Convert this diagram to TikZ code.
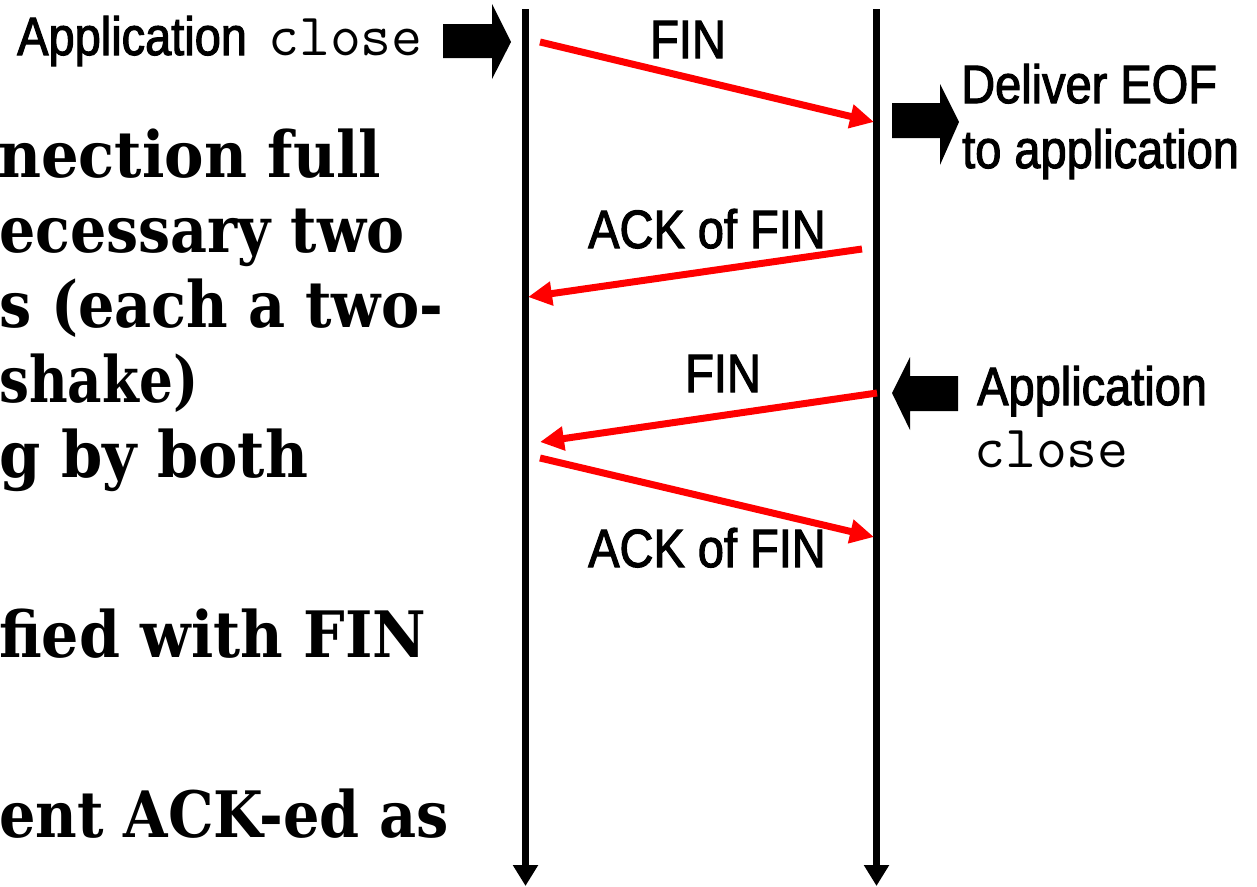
\documentclass[tikz,border=0pt]{standalone}
\usepackage{fontspec}
\usepackage{graphicx}
\usetikzlibrary{arrows.meta}
\newfontfamily\narrowsans[FakeStretch=0.87,FakeBold=2]{Liberation Sans}
\newfontfamily\slabbold{DejaVu Serif Bold}
% one line of the slide text, fitted to a given width
\newcommand{\fitline}[2]{\resizebox{#1}{\height}{#2}}
\begin{document}
\begin{tikzpicture}[x=1pt,y=-1pt,
  lbl/.style={inner sep=0pt,font=\narrowsans\fontsize{54}{65}\selectfont},
  code/.style={inner sep=0pt,font=\ttfamily\fontsize{60}{65}\selectfont},
  bullet/.style={inner sep=0pt,anchor=base west,font=\slabbold\fontsize{64}{75}\selectfont},
  lifeline/.style={line width=7.5pt,-{Triangle[length=21pt,width=24pt]}},
  msg/.style={draw=red,line width=7pt,-{Triangle[length=24pt,width=23pt]}},
  blockarrow/.style={fill=black}]
\useasboundingbox (0,0) rectangle (1257,886);
\clip (0,0) rectangle (1257,886);

% slide text at the left edge
\node[bullet] (b1) at (-2,177) {\fitline{383pt}{nection full}};
\node[bullet] (b2) at (-1,252) {\fitline{405pt}{ecessary two}};
\node[bullet] (b3) at (-1,327) {\fitline{444pt}{s (each a two-}};
\node[bullet] (b4) at (-1,402) {\fitline{199pt}{shake)}};
\node[bullet] (b5) at (-1,477) {\fitline{309pt}{g by both}};
\node[bullet] (b6) at (-1,657) {\fitline{427pt}{fied with FIN}};
\node[bullet] (b7) at (-1,837) {\fitline{450pt}{ent ACK-ed as}};

% the two endpoints' time lines
\coordinate (Ltop) at (525.5,9);
\coordinate (Lbot) at (525.5,886);
\coordinate (Rtop) at (876.5,9);
\coordinate (Rbot) at (876.5,886);
\draw[lifeline] (Ltop) -- (Lbot);
\draw[lifeline] (Rtop) -- (Rbot);

% segments exchanged
\coordinate (f1s) at (540,42);
\coordinate (f1e) at (874,122);
\coordinate (a1s) at (862,249);
\coordinate (a1e) at (528,297);
\coordinate (f2s) at (877,393);
\coordinate (f2e) at (540,442);
\coordinate (a2s) at (540,458);
\coordinate (a2e) at (874,537);
\draw[msg] (f1s) -- (f1e);
\draw[msg] (a1s) -- (a1e);
\draw[msg] (f2s) -- (f2e);
\draw[msg] (a2s) -- (a2e);

\node[lbl,anchor=base] (finA) at (688,58) {FIN};
\node[lbl,anchor=base] (ackA) at (707,248) {ACK of FIN};
\node[lbl,anchor=base] (finB) at (723,392) {FIN};
\node[lbl,anchor=base] (ackB) at (707,567) {ACK of FIN};

% application events
\node[lbl,anchor=base west] (appL) at (17,55) {Application};
\node[code,anchor=base west] (closeL) at (268,55) {close};
\fill[blockarrow] (443,24) -- (492,24) -- (492,4) -- (511,42) -- (492,79) -- (492,58) -- (443,58) -- cycle;

\fill[blockarrow] (892,103) -- (940,103) -- (940,84) -- (959,122) -- (940,165) -- (940,138) -- (892,138) -- cycle;
\node[lbl,anchor=base west] (eof1) at (961,103) {Deliver EOF};
\node[lbl,anchor=base west] (eof2) at (962,168) {to application};

\fill[blockarrow] (958,376) -- (910,376) -- (910,357) -- (892,393) -- (910,430) -- (910,411) -- (958,411) -- cycle;
\node[lbl,anchor=base west] (appR) at (977,405) {Application};
\node[code,anchor=base west] (closeR) at (974,467) {close};
\end{tikzpicture}
\end{document}
